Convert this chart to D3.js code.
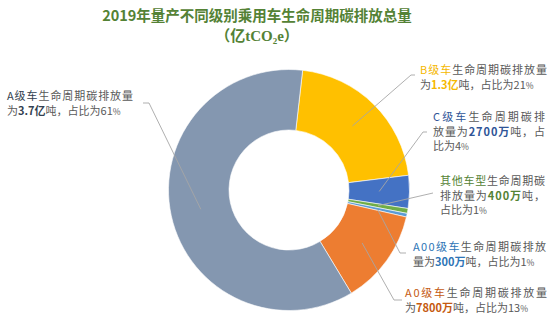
<!DOCTYPE html>
<html><head><meta charset="utf-8">
<script src="https://cdn.jsdelivr.net/npm/d3@7"></script>
<style>
html,body{margin:0;padding:0;background:#fff;}
svg{display:block;}
</style></head>
<body>
<svg id="c" width="554" height="334"></svg>
<script>
// ---- data ----
const categories = ["B级车", "C级车", "其他车型", "A00级车", "A0级车", "A级车"];
const values = [1.3, 0.27, 0.04, 0.03, 0.78, 3.7]; // 亿tCO2e
const amountLabels = ["1.3亿", "2700万", "400万", "300万", "7800万", "3.7亿"];
const shareLabels = ["21", "4", "1", "1", "13", "61"];
const titleLine1 = "2019年量产不同级别乘用车生命周期碳排放总量";

// ---- style / layout ----
const sliceColors = ["#FFC000", "#4472C4", "#70AD47", "#5B9BD5", "#ED7D31", "#8497B0"];
const accentColors = ["#F5B800", "#2F5597", "#548235", "#2E75B6", "#C55A11", "#333F50"];
const textGrey = "#595959";
const layout = [
  {x: 420, y: 74,  w: 127, breaks: [11],     elbow: [411, 75],  end: [415, 75]},
  {x: 433, y: 121, w: 112, breaks: [9, 11],  elbow: [423, 132], end: [427, 132]},
  {x: 440, y: 185, w: 105, breaks: [9, 10],  elbow: null,       end: [433, 193]},
  {x: 413, y: 251, w: 133, breaks: [12],     elbow: [400, 253], end: [406, 253]},
  {x: 405, y: 297, w: 142, breaks: [12],     elbow: [394, 300], end: [402, 300]},
  {x: 7,   y: 100, w: 126, breaks: [11],     elbow: [149, 103], end: [143, 103]}
];
const lineH = 14.5;
const cx = 289, cy = 190, rOuter = 120.5, rInner = 60;
const startAngle = 6.5 * Math.PI / 180;

const svg = d3.select("#c");
const font = "'Noto Sans CJK SC','Noto Sans',sans-serif";

// title
svg.append("text").attr("x", 257).attr("y", 21)
  .attr("text-anchor", "middle").attr("font-family", font)
  .attr("font-size", 14.5).attr("font-weight", "bold").attr("fill", "#548235")
  .text(titleLine1);
const t2 = svg.append("text").attr("x", 257).attr("y", 41)
  .attr("text-anchor", "middle").attr("font-family", font)
  .attr("font-size", 15).attr("font-weight", "bold").attr("fill", "#548235");
t2.append("tspan").text("（亿");
t2.append("tspan").attr("font-family", "'Liberation Serif','DejaVu Serif',serif").text("tCO");
t2.append("tspan").attr("font-family", "'Liberation Serif',serif").attr("font-size", 9).attr("dy", 3).text("2");
t2.append("tspan").attr("font-family", "'Liberation Serif',serif").attr("dy", -3).text("e");
t2.append("tspan").text("）");

// donut
const pie = d3.pie().sort(null).value(d => d)
  .startAngle(startAngle).endAngle(startAngle + 2 * Math.PI);
const arcs = pie(values);
const arc = d3.arc().innerRadius(rInner).outerRadius(rOuter);
const g = svg.append("g").attr("transform", `translate(${cx},${cy})`);
g.selectAll("path").data(arcs).join("path")
  .attr("d", arc)
  .attr("fill", (d, i) => sliceColors[i])
  .attr("stroke", "#fff").attr("stroke-width", 0.6);

// leader lines
const mid = d3.arc().innerRadius((rInner + rOuter) / 2).outerRadius((rInner + rOuter) / 2);
arcs.forEach((d, i) => {
  const c = mid.centroid(d);
  const p0 = [cx + c[0], cy + c[1]];
  const L = layout[i];
  const pts = [p0];
  if (L.elbow) pts.push(L.elbow);
  pts.push(L.end);
  svg.append("path").attr("d", d3.line()(pts))
    .attr("fill", "none").attr("stroke", "#A6A6A6").attr("stroke-width", 0.9);
});

// labels
categories.forEach((cat, i) => {
  const L = layout[i];
  const segs = [
    {t: cat, c: accentColors[i]},
    {t: "生命周期碳排放量为", c: textGrey},
    {t: amountLabels[i], c: accentColors[i], bold: true},
    {t: "吨，占比为" + shareLabels[i], c: textGrey},
    {t: "%", c: textGrey, small: true}
  ];
  const chars = [];
  segs.forEach(s => Array.from(s.t).forEach(ch => chars.push({ch, c: s.c, small: !!s.small, bold: !!s.bold})));
  const lines = [];
  let pos = 0;
  L.breaks.forEach(n => { lines.push(chars.slice(pos, pos + n)); pos += n; });
  lines.push(chars.slice(pos));
  lines.forEach((ln, li) => {
    const txt = svg.append("text").attr("x", L.x).attr("y", L.y + li * lineH)
      .attr("font-family", font).attr("font-size", 11);
    const runs = [];
    ln.forEach(o => {
      const last = runs[runs.length - 1];
      if (last && last.c === o.c && last.small === o.small && last.bold === o.bold) last.t += o.ch;
      else runs.push({t: o.ch, c: o.c, small: o.small, bold: o.bold});
    });
    runs.forEach(r => {
      const ts = txt.append("tspan").attr("fill", r.c).text(r.t);
      if (r.small) ts.attr("font-size", 8.5);
      if (r.bold) ts.attr("font-weight", "bold");
    });
    if (li < lines.length - 1) {
      const nat = txt.node().getComputedTextLength();
      const sp = (L.w - nat) / Math.max(1, ln.length - 1);
      txt.attr("letter-spacing", sp);
    }
  });
});
</script>
</body></html>
